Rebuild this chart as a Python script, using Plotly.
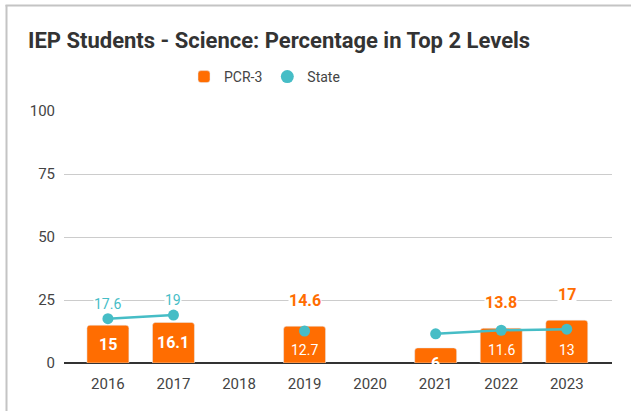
import plotly.graph_objects as go

# ---- data ----
years = ["2016", "2017", "2018", "2019", "2020", "2021", "2022", "2023"]
pcr3 = [15, 16.1, None, 14.6, None, 6, 13.8, 17]
state = [17.6, 19, None, 12.7, None, 11.6, 13.0, 13.4]
state_labels = ["17.6", "19", "", "12.7", "", "", "11.6", "13"]
y_ticks = [0, 25, 50, 75, 100]

ORANGE = "#FF6D01"
TEAL = "#46BDC6"
FONT = "Roboto"

fig = go.Figure()

fig.add_trace(go.Bar(
    x=years, y=pcr3, name="PCR-3", marker=dict(color=ORANGE, cornerradius=3),
    width=0.64, hoverinfo="skip", showlegend=True,
))
fig.add_trace(go.Scatter(
    x=years, y=state, name="State", mode="lines+markers",
    line=dict(color=TEAL, width=2.5), marker=dict(color=TEAL, size=11),
    connectgaps=False, hoverinfo="skip", showlegend=False,
))
# legend-only entry (circle symbol)
fig.add_trace(go.Scatter(
    x=[None], y=[None], name="State", mode="markers",
    marker=dict(color=TEAL, size=13), showlegend=True,
))

for i, (p, s, sl) in enumerate(zip(pcr3, state, state_labels)):
    if p is not None:
        state_inside = s is not None and s < p
        if state_inside:
            fig.add_annotation(
                x=i, y=p, xref="x", yref="y", text=str(p), showarrow=False,
                yanchor="bottom", yshift=15,
                font=dict(family=FONT, size=16, color=ORANGE, weight=700),
                bgcolor="white", borderpad=0,
            )
        else:
            fig.add_annotation(
                x=i, y=(p / 2 if p >= 10 else 0), xref="x", yref="y", text=str(p),
                showarrow=False, yanchor="middle",
                font=dict(family=FONT, size=16, color="white", weight=700),
            )
    if s is not None and sl:
        if p is not None and s < p:
            fig.add_annotation(
                x=i, y=0, xref="x", yref="y", text=sl, showarrow=False,
                yanchor="bottom", yshift=3,
                font=dict(family=FONT, size=14, color="white"),
            )
        else:
            fig.add_annotation(
                x=i, y=s, xref="x", yref="y", text=sl, showarrow=False,
                yanchor="bottom", yshift=6,
                font=dict(family=FONT, size=14, color=TEAL),
                bgcolor="white", borderpad=0,
            )

L, R, T, B = 64, 19, 111, 48
W, H = 631, 411
pw, ph = W - L - R, H - T - B

def px_x(x):
    return (x - L) / pw

def px_y(y):
    return (H - B - y) / ph

shapes = [
    dict(type="line", xref="paper", yref="paper", x0=px_x(6.5), x1=px_x(6.5),
         y0=px_y(5), y1=px_y(H + 2), line=dict(color="#C4C4C4", width=2)),
    dict(type="line", xref="paper", yref="paper", x0=px_x(5.5), x1=px_x(W + 2),
         y0=px_y(5.5), y1=px_y(5.5), line=dict(color="#C4C4C4", width=2)),
]

fig.update_layout(
    width=W, height=H,
    margin=dict(l=L, r=R, t=T, b=B),
    paper_bgcolor="white", plot_bgcolor="white",
    font=dict(family=FONT, color="#444444"),
    title=dict(text="IEP Students - Science: Percentage in Top 2 Levels",
               xref="container", x=28 / W, xanchor="left",
               yref="container", y=1 - 40 / H, yanchor="middle",
               font=dict(family=FONT, size=22, color="#333333", weight="bold")),
    legend=dict(orientation="h", x=px_x(184), xanchor="left", y=px_y(77), yanchor="middle",
                font=dict(family=FONT, size=14, color="#444444"), bgcolor="rgba(0,0,0,0)"),
    xaxis=dict(type="category", range=[-0.67, 7.69], showgrid=False, showline=False,
               ticks="", tickfont=dict(family=FONT, size=15, color="#444444"),
               ticklabelstandoff=10),
    yaxis=dict(range=[0, 100], tickvals=y_ticks, showgrid=True, gridcolor="#CCCCCC",
               gridwidth=1, zeroline=True, zerolinecolor="#333333", zerolinewidth=1.5,
               showline=False, ticks="", tickfont=dict(family=FONT, size=15, color="#444444"),
               ticklabelstandoff=8),
    shapes=shapes,
    bargap=0.36,
)

fig.write_html("out.html", config={"displayModeBar": False},
               post_script="document.body.style.margin='0';")
